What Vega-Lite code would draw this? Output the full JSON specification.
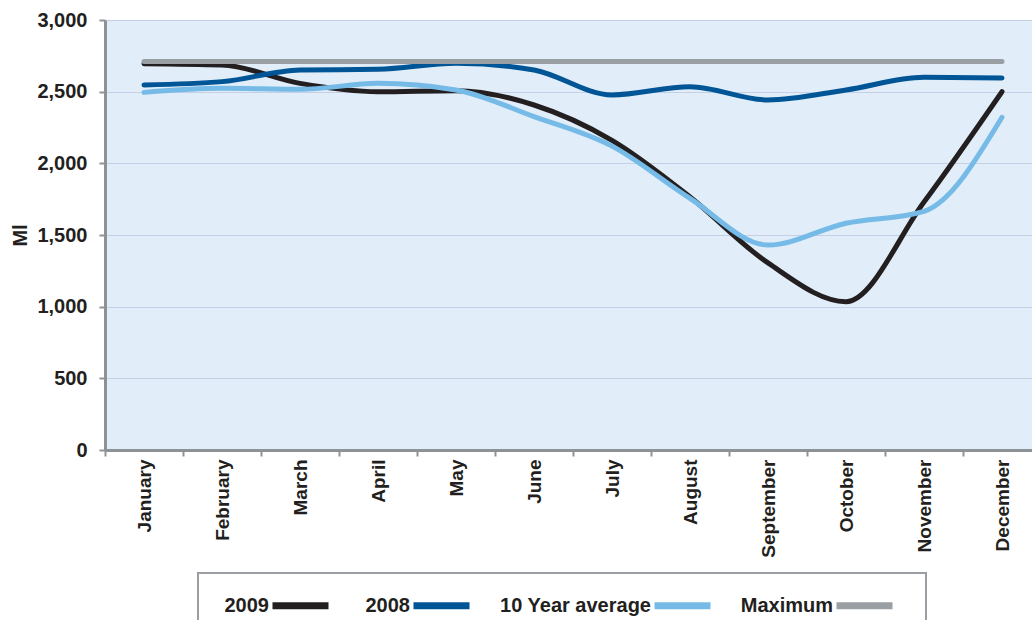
{
  "$schema": "https://vega.github.io/schema/vega-lite/v6.json",
  "autosize": {"type": "none"},
  "width": 927,
  "height": 430,
  "padding": {"left": 105, "top": 20, "right": 0, "bottom": 170},
  "background": "#ffffff",
  "data": {
    "values": [
      {"month": "January", "series": "2009", "value": 2695},
      {"month": "February", "series": "2009", "value": 2686},
      {"month": "March", "series": "2009", "value": 2558},
      {"month": "April", "series": "2009", "value": 2500},
      {"month": "May", "series": "2009", "value": 2507},
      {"month": "June", "series": "2009", "value": 2407},
      {"month": "July", "series": "2009", "value": 2160},
      {"month": "August", "series": "2009", "value": 1765},
      {"month": "September", "series": "2009", "value": 1305},
      {"month": "October", "series": "2009", "value": 1035},
      {"month": "November", "series": "2009", "value": 1730},
      {"month": "December", "series": "2009", "value": 2500},
      {"month": "January", "series": "2008", "value": 2547},
      {"month": "February", "series": "2008", "value": 2570},
      {"month": "March", "series": "2008", "value": 2651},
      {"month": "April", "series": "2008", "value": 2656},
      {"month": "May", "series": "2008", "value": 2698},
      {"month": "June", "series": "2008", "value": 2651},
      {"month": "July", "series": "2008", "value": 2477},
      {"month": "August", "series": "2008", "value": 2535},
      {"month": "September", "series": "2008", "value": 2442},
      {"month": "October", "series": "2008", "value": 2512},
      {"month": "November", "series": "2008", "value": 2600},
      {"month": "December", "series": "2008", "value": 2595},
      {"month": "January", "series": "10 Year average", "value": 2495},
      {"month": "February", "series": "10 Year average", "value": 2523},
      {"month": "March", "series": "10 Year average", "value": 2516},
      {"month": "April", "series": "10 Year average", "value": 2558},
      {"month": "May", "series": "10 Year average", "value": 2512},
      {"month": "June", "series": "10 Year average", "value": 2326},
      {"month": "July", "series": "10 Year average", "value": 2120},
      {"month": "August", "series": "10 Year average", "value": 1755},
      {"month": "September", "series": "10 Year average", "value": 1430},
      {"month": "October", "series": "10 Year average", "value": 1582},
      {"month": "November", "series": "10 Year average", "value": 1665},
      {"month": "December", "series": "10 Year average", "value": 2321},
      {"month": "January", "series": "Maximum", "value": 2710},
      {"month": "February", "series": "Maximum", "value": 2710},
      {"month": "March", "series": "Maximum", "value": 2710},
      {"month": "April", "series": "Maximum", "value": 2710},
      {"month": "May", "series": "Maximum", "value": 2710},
      {"month": "June", "series": "Maximum", "value": 2710},
      {"month": "July", "series": "Maximum", "value": 2710},
      {"month": "August", "series": "Maximum", "value": 2710},
      {"month": "September", "series": "Maximum", "value": 2710},
      {"month": "October", "series": "Maximum", "value": 2710},
      {"month": "November", "series": "Maximum", "value": 2710},
      {"month": "December", "series": "Maximum", "value": 2710}
    ]
  },
  "mark": {"type": "line", "interpolate": "monotone", "strokeWidth": 5, "strokeCap": "round", "strokeJoin": "round"},
  "encoding": {
    "x": {
      "field": "month",
      "type": "ordinal",
      "sort": ["January","February","March","April","May","June","July","August","September","October","November","December"],
      "scale": {"type": "band", "paddingInner": 0, "paddingOuter": 0, "range": [0, 936]},
      "axis": {
        "title": null,
        "labelAngle": -90,
        "labelAlign": "right",
        "labelBaseline": "middle",
        "labelPadding": 3,
        "labelFontSize": 19,
        "tickBand": "extent",
        "grid": false,
        "domainColor": "#8f9295",
        "domainWidth": 3,
        "tickColor": "#8f9295",
        "tickWidth": 2,
        "tickSize": 6
      }
    },
    "y": {
      "field": "value",
      "type": "quantitative",
      "scale": {"domain": [0, 3000], "nice": false},
      "axis": {
        "title": "Ml",
        "values": [0, 500, 1000, 1500, 2000, 2500, 3000],
        "format": ",.0f",
        "grid": true,
        "gridColor": "#c5cfe6",
        "gridWidth": 1,
        "domainColor": "#8f9295",
        "domainWidth": 3,
        "tickColor": "#8f9295",
        "tickWidth": 2,
        "tickSize": 6,
        "labelPadding": 12,
        "titlePadding": 6
      }
    },
    "color": {
      "field": "series",
      "type": "nominal",
      "sort": ["2009", "2008", "10 Year average", "Maximum"],
      "scale": {
        "domain": ["2009", "2008", "10 Year average", "Maximum"],
        "range": ["#231f20", "#005596", "#76bbe7", "#9a9fa4"]
      },
      "legend": {
        "title": null,
        "orient": "none",
        "legendX": 93,
        "legendY": 553,
        "direction": "horizontal",
        "columns": 4,
        "symbolType": "M-2.8,0H2.8",
        "symbolSize": 400,
        "symbolStrokeWidth": 7,
        "symbolOffset": 70,
        "labelAlign": "right",
        "labelOffset": -45,
        "columnPadding": 15,
        "padding": 19,
        "strokeColor": "#9a9ea2",
        "labelLimit": 300
      }
    }
  },
  "config": {
    "view": {"fill": "#e1edf8", "stroke": null},
    "font": "Liberation Sans",
    "axis": {
      "labelFont": "Liberation Sans",
      "labelFontSize": 20,
      "labelFontWeight": "bold",
      "labelColor": "#231f20",
      "titleFont": "Liberation Sans",
      "titleFontSize": 20,
      "titleFontWeight": "bold",
      "titleColor": "#231f20"
    },
    "legend": {
      "labelFont": "Liberation Sans",
      "labelFontSize": 20,
      "labelFontWeight": "bold",
      "labelColor": "#231f20",
      "strokeWidth": 2
    }
  }
}
